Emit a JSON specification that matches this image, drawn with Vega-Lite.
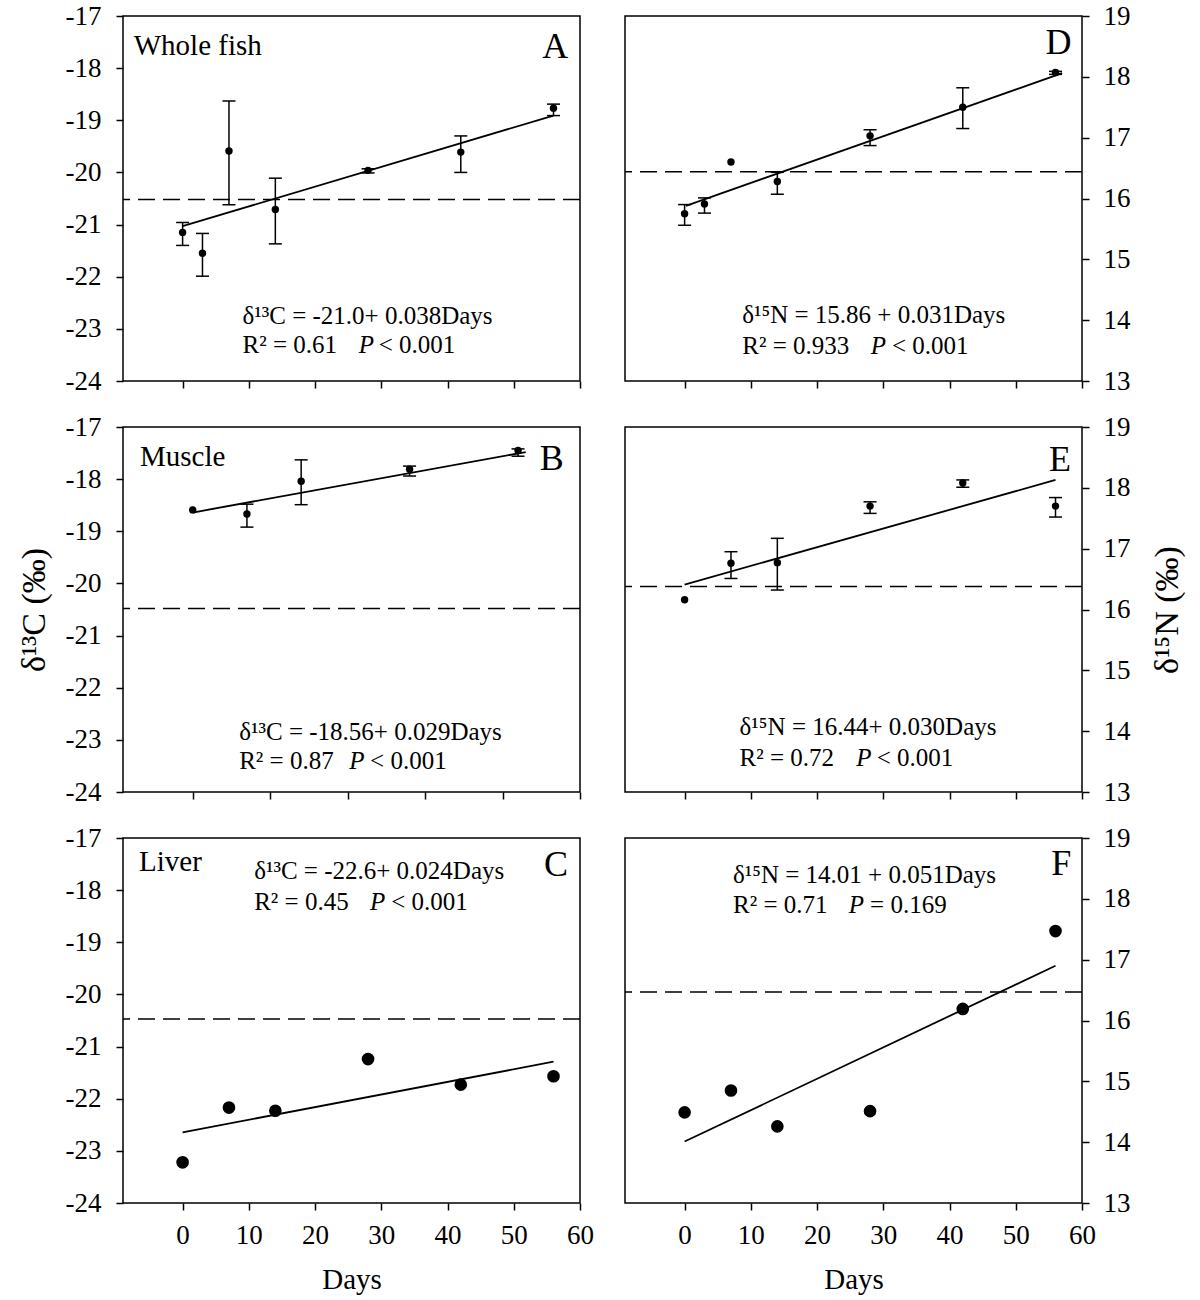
{
  "$schema": "https://vega.github.io/schema/vega-lite/v6.json",
  "padding": {"left": 16, "top": 1, "right": 5, "bottom": 0},
  "background": "white",
  "datasets": {
    "d": [
      {"panel":"A","kind":"pt","day":0,"val":-21.15},
      {"panel":"A","kind":"pt","day":3,"val":-21.55},
      {"panel":"A","kind":"pt","day":7,"val":-19.59},
      {"panel":"A","kind":"pt","day":14,"val":-20.71},
      {"panel":"A","kind":"pt","day":28,"val":-19.96},
      {"panel":"A","kind":"pt","day":42,"val":-19.61},
      {"panel":"A","kind":"pt","day":56,"val":-18.77},
      {"panel":"A","kind":"err","day":0,"lo":-21.40,"hi":-20.96},
      {"panel":"A","kind":"err","day":3,"lo":-21.99,"hi":-21.17},
      {"panel":"A","kind":"err","day":7,"lo":-20.62,"hi":-18.63},
      {"panel":"A","kind":"err","day":14,"lo":-21.37,"hi":-20.11},
      {"panel":"A","kind":"err","day":28,"lo":-20.01,"hi":-19.93},
      {"panel":"A","kind":"err","day":42,"lo":-20.00,"hi":-19.30},
      {"panel":"A","kind":"err","day":56,"lo":-18.91,"hi":-18.69},
      {"panel":"A","kind":"fit","day":0,"val":-21.03},
      {"panel":"A","kind":"fit","day":56,"val":-18.91},
      {"panel":"A","kind":"ref","val":-20.52},
      {"panel":"A","kind":"tissue","day":-7.38,"val":-17.74,"label":"Whole fish"},
      {"panel":"A","kind":"letter","day":58.24,"val":-17.8,"label":"A"},
      {"panel":"A","kind":"eq","day":9.04,"val":-22.9,"label":"δ¹³C = -21.0+ 0.038Days"},
      {"panel":"A","kind":"eq","day":9.04,"val":-23.46,"label":"R² = 0.61"},
      {"panel":"A","kind":"eqi","day":26.6,"val":-23.46,"label":"P"},
      {"panel":"A","kind":"eq","day":29.6,"val":-23.46,"label":"< 0.001"},

      {"panel":"D","kind":"pt","day":0,"val":15.75},
      {"panel":"D","kind":"pt","day":3,"val":15.91},
      {"panel":"D","kind":"pt","day":7,"val":16.60},
      {"panel":"D","kind":"pt","day":14,"val":16.28},
      {"panel":"D","kind":"pt","day":28,"val":17.03},
      {"panel":"D","kind":"pt","day":42,"val":17.50},
      {"panel":"D","kind":"pt","day":56,"val":18.07},
      {"panel":"D","kind":"err","day":0,"lo":15.56,"hi":15.90},
      {"panel":"D","kind":"err","day":3,"lo":15.76,"hi":16.01},
      {"panel":"D","kind":"err","day":14,"lo":16.07,"hi":16.43},
      {"panel":"D","kind":"err","day":28,"lo":16.87,"hi":17.13},
      {"panel":"D","kind":"err","day":42,"lo":17.15,"hi":17.82},
      {"panel":"D","kind":"err","day":56,"lo":18.04,"hi":18.09},
      {"panel":"D","kind":"fit","day":0.2,"val":15.88},
      {"panel":"D","kind":"fit","day":57,"val":18.06},
      {"panel":"D","kind":"ref","val":16.44},
      {"panel":"D","kind":"letter","day":58.4,"val":18.38,"label":"D"},
      {"panel":"D","kind":"eq","day":8.7,"val":13.96,"label":"δ¹⁵N = 15.86 + 0.031Days"},
      {"panel":"D","kind":"eq","day":8.7,"val":13.45,"label":"R² = 0.933"},
      {"panel":"D","kind":"eqi","day":28.1,"val":13.45,"label":"P"},
      {"panel":"D","kind":"eq","day":31.3,"val":13.45,"label":"< 0.001"},

      {"panel":"B","kind":"pt","day":0,"val":-18.59},
      {"panel":"B","kind":"pt","day":7,"val":-18.67},
      {"panel":"B","kind":"pt","day":14,"val":-18.04},
      {"panel":"B","kind":"pt","day":28,"val":-17.81},
      {"panel":"B","kind":"pt","day":42,"val":-17.45},
      {"panel":"B","kind":"err","day":7,"lo":-18.92,"hi":-18.48},
      {"panel":"B","kind":"err","day":14,"lo":-18.49,"hi":-17.63},
      {"panel":"B","kind":"err","day":28,"lo":-17.94,"hi":-17.75},
      {"panel":"B","kind":"err","day":42,"lo":-17.56,"hi":-17.42},
      {"panel":"B","kind":"fit","day":0,"val":-18.64},
      {"panel":"B","kind":"fit","day":43,"val":-17.48},
      {"panel":"B","kind":"ref","val":-20.48},
      {"panel":"B","kind":"tissue","day":-6.8,"val":-17.75,"label":"Muscle"},
      {"panel":"B","kind":"letter","day":47.9,"val":-17.82,"label":"B"},
      {"panel":"B","kind":"eq","day":6.0,"val":-23.0,"label":"δ¹³C = -18.56+ 0.029Days"},
      {"panel":"B","kind":"eq","day":6.0,"val":-23.56,"label":"R² = 0.87"},
      {"panel":"B","kind":"eqi","day":20.2,"val":-23.56,"label":"P"},
      {"panel":"B","kind":"eq","day":22.9,"val":-23.56,"label":"< 0.001"},

      {"panel":"E","kind":"pt","day":0,"val":16.16},
      {"panel":"E","kind":"pt","day":7,"val":16.76},
      {"panel":"E","kind":"pt","day":14,"val":16.77},
      {"panel":"E","kind":"pt","day":28,"val":17.70},
      {"panel":"E","kind":"pt","day":42,"val":18.08},
      {"panel":"E","kind":"pt","day":56,"val":17.70},
      {"panel":"E","kind":"err","day":7,"lo":16.51,"hi":16.95},
      {"panel":"E","kind":"err","day":14,"lo":16.32,"hi":17.17},
      {"panel":"E","kind":"err","day":28,"lo":17.58,"hi":17.77},
      {"panel":"E","kind":"err","day":42,"lo":18.01,"hi":18.13},
      {"panel":"E","kind":"err","day":56,"lo":17.52,"hi":17.84},
      {"panel":"E","kind":"fit","day":0,"val":16.41},
      {"panel":"E","kind":"fit","day":56,"val":18.13},
      {"panel":"E","kind":"ref","val":16.38},
      {"panel":"E","kind":"letter","day":58.35,"val":18.28,"label":"E"},
      {"panel":"E","kind":"eq","day":8.3,"val":13.93,"label":"δ¹⁵N = 16.44+ 0.030Days"},
      {"panel":"E","kind":"eq","day":8.3,"val":13.42,"label":"R² = 0.72"},
      {"panel":"E","kind":"eqi","day":25.9,"val":13.42,"label":"P"},
      {"panel":"E","kind":"eq","day":29.0,"val":13.42,"label":"< 0.001"},

      {"panel":"C","kind":"pt","day":0,"val":-23.22},
      {"panel":"C","kind":"pt","day":7,"val":-22.17},
      {"panel":"C","kind":"pt","day":14,"val":-22.23},
      {"panel":"C","kind":"pt","day":28,"val":-21.24},
      {"panel":"C","kind":"pt","day":42,"val":-21.73},
      {"panel":"C","kind":"pt","day":56,"val":-21.57},
      {"panel":"C","kind":"fit","day":0,"val":-22.645},
      {"panel":"C","kind":"fit","day":56,"val":-21.29},
      {"panel":"C","kind":"ref","val":-20.47},
      {"panel":"C","kind":"tissue","day":-6.57,"val":-17.63,"label":"Liver"},
      {"panel":"C","kind":"letter","day":58.2,"val":-17.73,"label":"C"},
      {"panel":"C","kind":"eq","day":10.8,"val":-17.79,"label":"δ¹³C = -22.6+ 0.024Days"},
      {"panel":"C","kind":"eq","day":10.8,"val":-18.375,"label":"R² = 0.45"},
      {"panel":"C","kind":"eqi","day":28.3,"val":-18.375,"label":"P"},
      {"panel":"C","kind":"eq","day":31.5,"val":-18.375,"label":"< 0.001"},

      {"panel":"F","kind":"pt","day":0,"val":14.49},
      {"panel":"F","kind":"pt","day":7,"val":14.85},
      {"panel":"F","kind":"pt","day":14,"val":14.26},
      {"panel":"F","kind":"pt","day":28,"val":14.51},
      {"panel":"F","kind":"pt","day":42,"val":16.19},
      {"panel":"F","kind":"pt","day":56,"val":17.47},
      {"panel":"F","kind":"fit","day":0,"val":14.01},
      {"panel":"F","kind":"fit","day":56,"val":16.90},
      {"panel":"F","kind":"ref","val":16.47},
      {"panel":"F","kind":"letter","day":58.4,"val":18.40,"label":"F"},
      {"panel":"F","kind":"eq","day":7.3,"val":18.26,"label":"δ¹⁵N = 14.01 + 0.051Days"},
      {"panel":"F","kind":"eq","day":7.3,"val":17.77,"label":"R² = 0.71"},
      {"panel":"F","kind":"eqi","day":24.8,"val":17.77,"label":"P"},
      {"panel":"F","kind":"eq","day":28.0,"val":17.77,"label":"= 0.169"}
    ]
  },
  "data": {"name": "d"},
  "columns": 2,
  "spacing": {"row": 17, "column": 28},
  "concat": [
    {
      "width": 457, "height": 365,
      "transform": [{"filter": "datum.panel === 'A'"}],
      "layer": [
        {"transform": [{"filter": "datum.kind === 'ref'"}], "mark": {"type": "rule", "strokeDash": [17, 8], "strokeWidth": 1.5, "color": "black"}, "encoding": {"y": {"field": "val", "type": "quantitative"}}},
        {"transform": [{"filter": "datum.kind === 'fit'"}], "mark": {"type": "line", "strokeWidth": 1.8, "color": "black"}, "encoding": {"x": {"field": "day", "type": "quantitative"}, "y": {"field": "val", "type": "quantitative"}}},
        {"transform": [{"filter": "datum.kind === 'err'"}], "mark": {"type": "rule", "strokeWidth": 1.5, "color": "black"}, "encoding": {"x": {"field": "day", "type": "quantitative"}, "y": {"field": "lo", "type": "quantitative"}, "y2": {"field": "hi"}}},
        {"transform": [{"filter": "datum.kind === 'err'"}], "mark": {"type": "tick", "orient": "horizontal", "size": 13, "thickness": 1.5, "color": "black", "opacity": 1}, "encoding": {"x": {"field": "day", "type": "quantitative"}, "y": {"field": "lo", "type": "quantitative"}}},
        {"transform": [{"filter": "datum.kind === 'err'"}], "mark": {"type": "tick", "orient": "horizontal", "size": 13, "thickness": 1.5, "color": "black", "opacity": 1}, "encoding": {"x": {"field": "day", "type": "quantitative"}, "y": {"field": "hi", "type": "quantitative"}}},
        {"transform": [{"filter": "datum.kind === 'pt'"}], "mark": {"type": "circle", "size": 55, "color": "black", "opacity": 1},
         "encoding": {
           "x": {"field": "day", "type": "quantitative", "scale": {"domain": [-9, 60], "nice": false, "zero": false}, "axis": {"values": [0, 10, 20, 30, 40, 50, 60], "labels": false, "title": null}},
           "y": {"field": "val", "type": "quantitative", "scale": {"domain": [-24, -17], "nice": false, "zero": false}, "axis": {"orient": "left", "values": [-24, -23, -22, -21, -20, -19, -18, -17], "title": null, "labelPadding": 15}}}},
        {"transform": [{"filter": "datum.kind === 'tissue'"}], "mark": {"type": "text", "fontSize": 29, "align": "left", "baseline": "alphabetic", "font": "Liberation Serif", "color": "black"}, "encoding": {"x": {"field": "day", "type": "quantitative"}, "y": {"field": "val", "type": "quantitative"}, "text": {"field": "label"}}},
        {"transform": [{"filter": "datum.kind === 'letter'"}], "mark": {"type": "text", "fontSize": 36, "align": "right", "baseline": "alphabetic", "font": "Liberation Serif", "color": "black"}, "encoding": {"x": {"field": "day", "type": "quantitative"}, "y": {"field": "val", "type": "quantitative"}, "text": {"field": "label"}}},
        {"transform": [{"filter": "datum.kind === 'eq'"}], "mark": {"type": "text", "fontSize": 25, "align": "left", "baseline": "alphabetic", "font": "Liberation Serif", "color": "black"}, "encoding": {"x": {"field": "day", "type": "quantitative"}, "y": {"field": "val", "type": "quantitative"}, "text": {"field": "label"}}},
        {"transform": [{"filter": "datum.kind === 'eqi'"}], "mark": {"type": "text", "fontSize": 25, "fontStyle": "italic", "align": "left", "baseline": "alphabetic", "font": "Liberation Serif", "color": "black"}, "encoding": {"x": {"field": "day", "type": "quantitative"}, "y": {"field": "val", "type": "quantitative"}, "text": {"field": "label"}}}
      ]
    },
    {
      "width": 457, "height": 365,
      "transform": [{"filter": "datum.panel === 'D'"}],
      "layer": [
        {"transform": [{"filter": "datum.kind === 'ref'"}], "mark": {"type": "rule", "strokeDash": [17, 8], "strokeWidth": 1.5, "color": "black"}, "encoding": {"y": {"field": "val", "type": "quantitative"}}},
        {"transform": [{"filter": "datum.kind === 'fit'"}], "mark": {"type": "line", "strokeWidth": 1.8, "color": "black"}, "encoding": {"x": {"field": "day", "type": "quantitative"}, "y": {"field": "val", "type": "quantitative"}}},
        {"transform": [{"filter": "datum.kind === 'err'"}], "mark": {"type": "rule", "strokeWidth": 1.5, "color": "black"}, "encoding": {"x": {"field": "day", "type": "quantitative"}, "y": {"field": "lo", "type": "quantitative"}, "y2": {"field": "hi"}}},
        {"transform": [{"filter": "datum.kind === 'err'"}], "mark": {"type": "tick", "orient": "horizontal", "size": 13, "thickness": 1.5, "color": "black", "opacity": 1}, "encoding": {"x": {"field": "day", "type": "quantitative"}, "y": {"field": "lo", "type": "quantitative"}}},
        {"transform": [{"filter": "datum.kind === 'err'"}], "mark": {"type": "tick", "orient": "horizontal", "size": 13, "thickness": 1.5, "color": "black", "opacity": 1}, "encoding": {"x": {"field": "day", "type": "quantitative"}, "y": {"field": "hi", "type": "quantitative"}}},
        {"transform": [{"filter": "datum.kind === 'pt'"}], "mark": {"type": "circle", "size": 55, "color": "black", "opacity": 1},
         "encoding": {
           "x": {"field": "day", "type": "quantitative", "scale": {"domain": [-9, 60], "nice": false, "zero": false}, "axis": {"values": [0, 10, 20, 30, 40, 50, 60], "labels": false, "title": null}},
           "y": {"field": "val", "type": "quantitative", "scale": {"domain": [13, 19], "nice": false, "zero": false}, "axis": {"orient": "right", "values": [13, 14, 15, 16, 17, 18, 19], "title": null, "labelPadding": 14}}}},
        {"transform": [{"filter": "datum.kind === 'letter'"}], "mark": {"type": "text", "fontSize": 36, "align": "right", "baseline": "alphabetic", "font": "Liberation Serif", "color": "black"}, "encoding": {"x": {"field": "day", "type": "quantitative"}, "y": {"field": "val", "type": "quantitative"}, "text": {"field": "label"}}},
        {"transform": [{"filter": "datum.kind === 'eq'"}], "mark": {"type": "text", "fontSize": 25, "align": "left", "baseline": "alphabetic", "font": "Liberation Serif", "color": "black"}, "encoding": {"x": {"field": "day", "type": "quantitative"}, "y": {"field": "val", "type": "quantitative"}, "text": {"field": "label"}}},
        {"transform": [{"filter": "datum.kind === 'eqi'"}], "mark": {"type": "text", "fontSize": 25, "fontStyle": "italic", "align": "left", "baseline": "alphabetic", "font": "Liberation Serif", "color": "black"}, "encoding": {"x": {"field": "day", "type": "quantitative"}, "y": {"field": "val", "type": "quantitative"}, "text": {"field": "label"}}}
      ]
    },
    {
      "width": 457, "height": 365,
      "transform": [{"filter": "datum.panel === 'B'"}],
      "layer": [
        {"transform": [{"filter": "datum.kind === 'ref'"}], "mark": {"type": "rule", "strokeDash": [17, 8], "strokeWidth": 1.5, "color": "black"}, "encoding": {"y": {"field": "val", "type": "quantitative"}}},
        {"transform": [{"filter": "datum.kind === 'fit'"}], "mark": {"type": "line", "strokeWidth": 1.8, "color": "black"}, "encoding": {"x": {"field": "day", "type": "quantitative"}, "y": {"field": "val", "type": "quantitative"}}},
        {"transform": [{"filter": "datum.kind === 'err'"}], "mark": {"type": "rule", "strokeWidth": 1.5, "color": "black"}, "encoding": {"x": {"field": "day", "type": "quantitative"}, "y": {"field": "lo", "type": "quantitative"}, "y2": {"field": "hi"}}},
        {"transform": [{"filter": "datum.kind === 'err'"}], "mark": {"type": "tick", "orient": "horizontal", "size": 13, "thickness": 1.5, "color": "black", "opacity": 1}, "encoding": {"x": {"field": "day", "type": "quantitative"}, "y": {"field": "lo", "type": "quantitative"}}},
        {"transform": [{"filter": "datum.kind === 'err'"}], "mark": {"type": "tick", "orient": "horizontal", "size": 13, "thickness": 1.5, "color": "black", "opacity": 1}, "encoding": {"x": {"field": "day", "type": "quantitative"}, "y": {"field": "hi", "type": "quantitative"}}},
        {"transform": [{"filter": "datum.kind === 'pt'"}], "mark": {"type": "circle", "size": 55, "color": "black", "opacity": 1},
         "encoding": {
           "x": {"field": "day", "type": "quantitative", "scale": {"domain": [-9, 50], "nice": false, "zero": false}, "axis": {"values": [0, 10, 20, 30, 40, 50], "labels": false, "title": null}},
           "y": {"field": "val", "type": "quantitative", "scale": {"domain": [-24, -17], "nice": false, "zero": false}, "axis": {"orient": "left", "values": [-24, -23, -22, -21, -20, -19, -18, -17], "title": "δ¹³C (‰)", "titlePadding": 14, "titleFontSize": 34, "labelPadding": 15}}}},
        {"transform": [{"filter": "datum.kind === 'tissue'"}], "mark": {"type": "text", "fontSize": 29, "align": "left", "baseline": "alphabetic", "font": "Liberation Serif", "color": "black"}, "encoding": {"x": {"field": "day", "type": "quantitative"}, "y": {"field": "val", "type": "quantitative"}, "text": {"field": "label"}}},
        {"transform": [{"filter": "datum.kind === 'letter'"}], "mark": {"type": "text", "fontSize": 36, "align": "right", "baseline": "alphabetic", "font": "Liberation Serif", "color": "black"}, "encoding": {"x": {"field": "day", "type": "quantitative"}, "y": {"field": "val", "type": "quantitative"}, "text": {"field": "label"}}},
        {"transform": [{"filter": "datum.kind === 'eq'"}], "mark": {"type": "text", "fontSize": 25, "align": "left", "baseline": "alphabetic", "font": "Liberation Serif", "color": "black"}, "encoding": {"x": {"field": "day", "type": "quantitative"}, "y": {"field": "val", "type": "quantitative"}, "text": {"field": "label"}}},
        {"transform": [{"filter": "datum.kind === 'eqi'"}], "mark": {"type": "text", "fontSize": 25, "fontStyle": "italic", "align": "left", "baseline": "alphabetic", "font": "Liberation Serif", "color": "black"}, "encoding": {"x": {"field": "day", "type": "quantitative"}, "y": {"field": "val", "type": "quantitative"}, "text": {"field": "label"}}}
      ]
    },
    {
      "width": 457, "height": 365,
      "transform": [{"filter": "datum.panel === 'E'"}],
      "layer": [
        {"transform": [{"filter": "datum.kind === 'ref'"}], "mark": {"type": "rule", "strokeDash": [17, 8], "strokeWidth": 1.5, "color": "black"}, "encoding": {"y": {"field": "val", "type": "quantitative"}}},
        {"transform": [{"filter": "datum.kind === 'fit'"}], "mark": {"type": "line", "strokeWidth": 1.8, "color": "black"}, "encoding": {"x": {"field": "day", "type": "quantitative"}, "y": {"field": "val", "type": "quantitative"}}},
        {"transform": [{"filter": "datum.kind === 'err'"}], "mark": {"type": "rule", "strokeWidth": 1.5, "color": "black"}, "encoding": {"x": {"field": "day", "type": "quantitative"}, "y": {"field": "lo", "type": "quantitative"}, "y2": {"field": "hi"}}},
        {"transform": [{"filter": "datum.kind === 'err'"}], "mark": {"type": "tick", "orient": "horizontal", "size": 13, "thickness": 1.5, "color": "black", "opacity": 1}, "encoding": {"x": {"field": "day", "type": "quantitative"}, "y": {"field": "lo", "type": "quantitative"}}},
        {"transform": [{"filter": "datum.kind === 'err'"}], "mark": {"type": "tick", "orient": "horizontal", "size": 13, "thickness": 1.5, "color": "black", "opacity": 1}, "encoding": {"x": {"field": "day", "type": "quantitative"}, "y": {"field": "hi", "type": "quantitative"}}},
        {"transform": [{"filter": "datum.kind === 'pt'"}], "mark": {"type": "circle", "size": 55, "color": "black", "opacity": 1},
         "encoding": {
           "x": {"field": "day", "type": "quantitative", "scale": {"domain": [-9, 60], "nice": false, "zero": false}, "axis": {"values": [0, 10, 20, 30, 40, 50, 60], "labels": false, "title": null}},
           "y": {"field": "val", "type": "quantitative", "scale": {"domain": [13, 19], "nice": false, "zero": false}, "axis": {"orient": "right", "values": [13, 14, 15, 16, 17, 18, 19], "title": "δ¹⁵N (‰)", "titleAngle": 270, "titleBaseline": "top", "titlePadding": 20, "titleFontSize": 34, "labelPadding": 14}}}},
        {"transform": [{"filter": "datum.kind === 'letter'"}], "mark": {"type": "text", "fontSize": 36, "align": "right", "baseline": "alphabetic", "font": "Liberation Serif", "color": "black"}, "encoding": {"x": {"field": "day", "type": "quantitative"}, "y": {"field": "val", "type": "quantitative"}, "text": {"field": "label"}}},
        {"transform": [{"filter": "datum.kind === 'eq'"}], "mark": {"type": "text", "fontSize": 25, "align": "left", "baseline": "alphabetic", "font": "Liberation Serif", "color": "black"}, "encoding": {"x": {"field": "day", "type": "quantitative"}, "y": {"field": "val", "type": "quantitative"}, "text": {"field": "label"}}},
        {"transform": [{"filter": "datum.kind === 'eqi'"}], "mark": {"type": "text", "fontSize": 25, "fontStyle": "italic", "align": "left", "baseline": "alphabetic", "font": "Liberation Serif", "color": "black"}, "encoding": {"x": {"field": "day", "type": "quantitative"}, "y": {"field": "val", "type": "quantitative"}, "text": {"field": "label"}}}
      ]
    },
    {
      "width": 457, "height": 365,
      "transform": [{"filter": "datum.panel === 'C'"}],
      "layer": [
        {"transform": [{"filter": "datum.kind === 'ref'"}], "mark": {"type": "rule", "strokeDash": [17, 8], "strokeWidth": 1.5, "color": "black"}, "encoding": {"y": {"field": "val", "type": "quantitative"}}},
        {"transform": [{"filter": "datum.kind === 'fit'"}], "mark": {"type": "line", "strokeWidth": 1.8, "color": "black"}, "encoding": {"x": {"field": "day", "type": "quantitative"}, "y": {"field": "val", "type": "quantitative"}}},
        {"transform": [{"filter": "datum.kind === 'pt'"}], "mark": {"type": "circle", "size": 160, "color": "black", "opacity": 1},
         "encoding": {
           "x": {"field": "day", "type": "quantitative", "scale": {"domain": [-9, 60], "nice": false, "zero": false}, "axis": {"values": [0, 10, 20, 30, 40, 50, 60], "title": "Days", "titleFontSize": 29, "titlePadding": 17}},
           "y": {"field": "val", "type": "quantitative", "scale": {"domain": [-24, -17], "nice": false, "zero": false}, "axis": {"orient": "left", "values": [-24, -23, -22, -21, -20, -19, -18, -17], "title": null, "labelPadding": 15}}}},
        {"transform": [{"filter": "datum.kind === 'tissue'"}], "mark": {"type": "text", "fontSize": 29, "align": "left", "baseline": "alphabetic", "font": "Liberation Serif", "color": "black"}, "encoding": {"x": {"field": "day", "type": "quantitative"}, "y": {"field": "val", "type": "quantitative"}, "text": {"field": "label"}}},
        {"transform": [{"filter": "datum.kind === 'letter'"}], "mark": {"type": "text", "fontSize": 36, "align": "right", "baseline": "alphabetic", "font": "Liberation Serif", "color": "black"}, "encoding": {"x": {"field": "day", "type": "quantitative"}, "y": {"field": "val", "type": "quantitative"}, "text": {"field": "label"}}},
        {"transform": [{"filter": "datum.kind === 'eq'"}], "mark": {"type": "text", "fontSize": 25, "align": "left", "baseline": "alphabetic", "font": "Liberation Serif", "color": "black"}, "encoding": {"x": {"field": "day", "type": "quantitative"}, "y": {"field": "val", "type": "quantitative"}, "text": {"field": "label"}}},
        {"transform": [{"filter": "datum.kind === 'eqi'"}], "mark": {"type": "text", "fontSize": 25, "fontStyle": "italic", "align": "left", "baseline": "alphabetic", "font": "Liberation Serif", "color": "black"}, "encoding": {"x": {"field": "day", "type": "quantitative"}, "y": {"field": "val", "type": "quantitative"}, "text": {"field": "label"}}}
      ]
    },
    {
      "width": 457, "height": 365,
      "transform": [{"filter": "datum.panel === 'F'"}],
      "layer": [
        {"transform": [{"filter": "datum.kind === 'ref'"}], "mark": {"type": "rule", "strokeDash": [17, 8], "strokeWidth": 1.5, "color": "black"}, "encoding": {"y": {"field": "val", "type": "quantitative"}}},
        {"transform": [{"filter": "datum.kind === 'fit'"}], "mark": {"type": "line", "strokeWidth": 1.8, "color": "black"}, "encoding": {"x": {"field": "day", "type": "quantitative"}, "y": {"field": "val", "type": "quantitative"}}},
        {"transform": [{"filter": "datum.kind === 'pt'"}], "mark": {"type": "circle", "size": 160, "color": "black", "opacity": 1},
         "encoding": {
           "x": {"field": "day", "type": "quantitative", "scale": {"domain": [-9, 60], "nice": false, "zero": false}, "axis": {"values": [0, 10, 20, 30, 40, 50, 60], "title": "Days", "titleFontSize": 29, "titlePadding": 17}},
           "y": {"field": "val", "type": "quantitative", "scale": {"domain": [13, 19], "nice": false, "zero": false}, "axis": {"orient": "right", "values": [13, 14, 15, 16, 17, 18, 19], "title": null, "labelPadding": 14}}}},
        {"transform": [{"filter": "datum.kind === 'letter'"}], "mark": {"type": "text", "fontSize": 36, "align": "right", "baseline": "alphabetic", "font": "Liberation Serif", "color": "black"}, "encoding": {"x": {"field": "day", "type": "quantitative"}, "y": {"field": "val", "type": "quantitative"}, "text": {"field": "label"}}},
        {"transform": [{"filter": "datum.kind === 'eq'"}], "mark": {"type": "text", "fontSize": 25, "align": "left", "baseline": "alphabetic", "font": "Liberation Serif", "color": "black"}, "encoding": {"x": {"field": "day", "type": "quantitative"}, "y": {"field": "val", "type": "quantitative"}, "text": {"field": "label"}}},
        {"transform": [{"filter": "datum.kind === 'eqi'"}], "mark": {"type": "text", "fontSize": 25, "fontStyle": "italic", "align": "left", "baseline": "alphabetic", "font": "Liberation Serif", "color": "black"}, "encoding": {"x": {"field": "day", "type": "quantitative"}, "y": {"field": "val", "type": "quantitative"}, "text": {"field": "label"}}}
      ]
    }
  ],
  "config": {
    "font": "Liberation Serif",
    "view": {"stroke": "black", "strokeWidth": 1.5},
    "axis": {
      "grid": false, "domain": false, "ticks": true, "tickColor": "black", "tickWidth": 1.5, "tickSize": 7,
      "labelFont": "Liberation Serif", "labelFontSize": 27, "labelColor": "black", "labelPadding": 12,
      "labelFlush": false, "labelOverlap": false, "labelExpr": "'' + datum.value",
      "titleFont": "Liberation Serif", "titleFontSize": 32, "titleFontWeight": "normal", "titleColor": "black"
    }
  }
}
